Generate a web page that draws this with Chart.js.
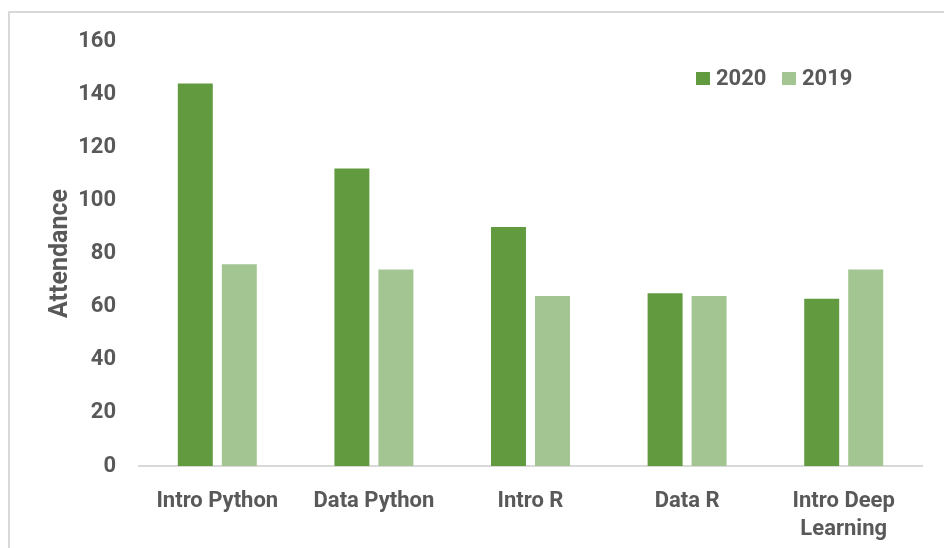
<!DOCTYPE html>
<html lang="en">
<head>
  <meta charset="UTF-8">
  <title>Attendance</title>
  <script src="https://cdn.jsdelivr.net/npm/chart.js@4.4.1/dist/chart.umd.min.js"></script>
  <style>
    html, body {
      margin: 0;
      padding: 0;
      background: #fff;
      overflow: hidden;
    }

    .frame {
      position: absolute;
      left: 8px;
      top: 11px;
      width: 980px;
      height: 600px;
      border: 2px solid #d9d9d9;
      box-sizing: border-box;
    }

    .wrap {
      position: absolute;
      left: 0;
      top: 0;
      width: 944px;
      height: 548px;
    }
  </style>
</head>
<body>
<div class="frame"></div>
<div class="wrap">
  <canvas id="attendanceChart" width="944" height="548"></canvas>
</div>

<script>
  // data
  const courses = ["Intro Python", "Data Python", "Intro R", "Data R", ["Intro Deep", "Learning"]];
  const attendance2020 = [144, 112, 90, 65, 63];
  const attendance2019 = [76, 74, 64, 64, 74];
  const yTicks = [0, 20, 40, 60, 80, 100, 120, 140, 160];

  const textColor = "#595959";
  const fontFamily = "Roboto, 'DejaVu Sans', sans-serif";

  // legend drawn inside the plot, top right
  const innerLegend = {
    id: 'innerLegend',
    afterDraw(chart) {
      const ctx = chart.ctx;
      let x = 696;
      const y = 72;
      ctx.save();
      ctx.font = "bold 22px " + fontFamily;
      ctx.textBaseline = 'middle';
      chart.data.datasets.forEach(ds => {
        ctx.fillStyle = ds.backgroundColor;
        ctx.fillRect(x, y, 14, 13);
        ctx.fillStyle = textColor;
        ctx.fillText(ds.label, x + 20, y + 7);
        x += 86;
      });
      ctx.restore();
    }
  };

  new Chart(document.getElementById("attendanceChart"), {
    type: 'bar',
    data: {
      labels: courses,
      datasets: [
        {
          label: "2020",
          data: attendance2020,
          backgroundColor: "#629b3f",
          categoryPercentage: 0.562,
          barPercentage: 0.795
        },
        {
          label: "2019",
          data: attendance2019,
          backgroundColor: "#a3c591",
          categoryPercentage: 0.562,
          barPercentage: 0.795
        }
      ]
    },
    options: {
      responsive: false,
      animation: false,
      layout: { padding: { top: 41, right: 22, left: 0, bottom: 0 } },
      plugins: {
        legend: { display: false },
        tooltip: { enabled: false }
      },
      scales: {
        x: {
          grid: { display: false },
          border: { display: true, color: "#d9d9d9", width: 2 },
          ticks: {
            color: textColor,
            padding: 13,
            maxRotation: 0,
            autoSkip: false,
            font: { family: fontFamily, size: 22, weight: 'bold', lineHeight: 1.3 }
          },
          afterFit(scale) { scale.height = 82; }
        },
        y: {
          min: 0,
          max: 160,
          afterBuildTicks(scale) { scale.ticks = yTicks.map(v => ({ value: v })); },
          grid: { display: false, drawTicks: false },
          border: { display: false },
          ticks: {
            color: textColor,
            padding: 23,
            font: { family: fontFamily, size: 22, weight: 'bold' }
          },
          title: {
            display: true,
            text: "Attendance",
            color: textColor,
            padding: { top: 46, bottom: 0 },
            font: { family: fontFamily, size: 25, weight: 'bold' }
          },
          afterFit(scale) { scale.width = 139; }
        }
      }
    },
    plugins: [innerLegend]
  });
</script>

</body>
</html>
